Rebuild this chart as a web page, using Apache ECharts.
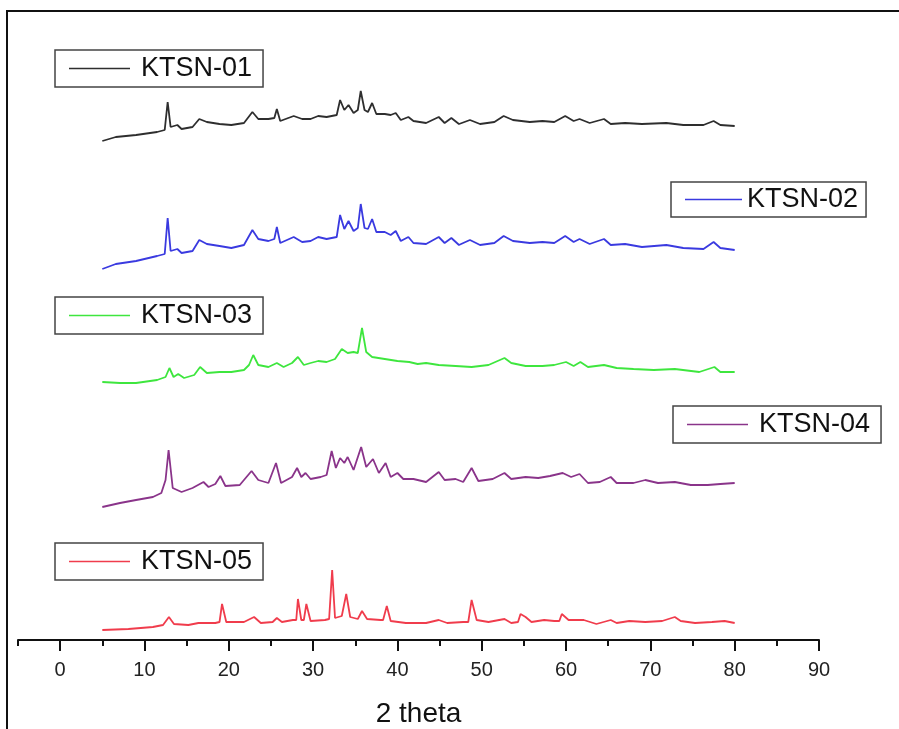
<!DOCTYPE html>
<html>
<head>
<meta charset="utf-8">
<script src="https://cdn.jsdelivr.net/npm/echarts@6/dist/echarts.min.js"></script>
<style>
html, body { margin: 0; padding: 0; background: #fff; }
#main { width: 899px; height: 729px; }
</style>
</head>
<body>
<div id="main"></div>
<script>
// series names
let names = ['KTSN-01', 'KTSN-02', 'KTSN-03', 'KTSN-04', 'KTSN-05'];

// axis ticks (2 theta)
let majorTicks = [0, 10, 20, 30, 40, 50, 60, 70, 80, 90];
let minorTicks = [-5, 5, 15, 25, 35, 45, 55, 65, 75, 85];

// patterns, stacked with offsets (2 theta, intensity a.u.)
let ktsn01 = [[5.0,499],[6.6,503],[9.0,505],[11.5,508],[12.4,510],[12.75,538],[13.1,513],[13.9,515],[14.4,511],[15.7,513],[16.5,521],[17.4,518],[18.9,516],[20.3,515],[21.8,517],[22.8,528],[23.5,521],[24.7,521],[25.4,522],[25.7,531],[26.1,519],[27.7,524],[28.7,521],[29.7,521],[30.6,524],[31.6,523],[32.8,525],[33.2,540],[33.7,530],[34.2,535],[34.8,527],[35.3,530],[35.65,549],[36.1,530],[36.5,528],[37.0,537],[37.5,526],[38.5,526],[39.2,525],[39.8,527],[40.4,520],[41.3,523],[41.9,519],[43.4,517],[44.9,523],[45.6,517],[46.4,522],[47.3,516],[48.6,520],[49.8,516],[51.5,518],[52.6,524],[53.7,520],[55.7,518],[57.2,519],[58.6,518],[59.9,524],[60.9,519],[61.6,521],[62.8,517],[64.5,521],[65.3,516],[67.0,517],[69.0,516],[71.9,517],[73.9,515],[76.3,515],[77.5,519],[78.3,515],[80.0,514]];

let ktsn02 = [[5.0,371],[6.6,376],[9.0,379],[11.5,384],[12.4,386],[12.75,422],[13.1,389],[13.9,391],[14.4,387],[15.7,389],[16.5,400],[17.4,396],[18.9,394],[20.3,392],[21.8,395],[22.8,410],[23.5,401],[24.7,399],[25.4,401],[25.7,413],[26.1,397],[27.7,403],[28.7,398],[29.7,399],[30.6,403],[31.6,401],[32.8,403],[33.2,425],[33.7,411],[34.2,419],[34.8,409],[35.3,412],[35.65,436],[36.1,412],[36.5,411],[37.0,421],[37.5,408],[38.5,408],[39.2,405],[39.8,409],[40.4,399],[41.3,403],[41.9,397],[43.4,396],[44.9,403],[45.6,397],[46.4,402],[47.3,395],[48.6,400],[49.8,395],[51.5,397],[52.6,404],[53.7,399],[55.7,397],[57.2,398],[58.6,397],[59.9,404],[60.9,398],[61.6,401],[62.8,396],[64.5,401],[65.3,395],[67.0,396],[69.0,393],[71.9,395],[73.9,392],[76.3,391],[77.5,398],[78.3,392],[80.0,390]];

let ktsn03 = [[5.0,258],[7.1,257],[9.0,257],[11.5,260],[12.5,263],[12.96,272],[13.45,263],[14.0,266],[14.7,262],[15.9,265],[16.6,273],[17.4,267],[18.9,268],[20.3,268],[21.8,270],[22.4,275],[22.9,285],[23.5,275],[24.7,273],[25.7,277],[26.5,273],[27.5,277],[28.2,283],[28.9,275],[29.7,277],[30.6,279],[31.6,278],[32.6,281],[33.4,291],[34.1,287],[34.8,288],[35.3,287],[35.8,312],[36.3,288],[37.0,283],[38.5,281],[40.0,279],[41.4,278],[42.4,276],[43.4,277],[44.9,275],[46.9,274],[48.8,273],[50.8,275],[52.7,282],[53.5,277],[55.2,274],[57.2,274],[58.6,275],[60.0,278],[60.9,274],[61.7,278],[62.6,273],[64.5,275],[66.0,272],[68.0,271],[70.4,270],[72.9,271],[75.8,268],[77.6,273],[78.3,268],[80.0,268]];

let ktsn04 = [[5.0,133],[7.1,137],[9.0,140],[11.0,143],[12.0,147],[12.5,160],[12.86,190],[13.35,152],[14.4,148],[15.7,152],[17.0,158],[17.6,153],[18.4,156],[19.0,164],[19.6,154],[21.3,155],[22.7,169],[23.5,160],[24.7,157],[25.6,177],[26.2,157],[27.5,163],[28.1,172],[28.6,163],[29.1,167],[29.7,161],[30.9,163],[31.6,165],[32.2,189],[32.7,172],[33.2,182],[33.7,177],[34.1,183],[34.8,170],[35.7,193],[36.3,173],[37.1,181],[37.8,167],[38.6,177],[39.2,163],[40.0,167],[40.7,161],[41.9,161],[43.4,158],[44.9,168],[45.6,160],[46.9,161],[47.8,158],[48.8,172],[49.6,159],[51.3,161],[52.7,167],[53.5,161],[55.2,163],[56.7,162],[58.1,164],[59.6,167],[60.6,163],[61.6,166],[62.6,157],[64.0,158],[65.3,163],[66.0,157],[68.0,157],[69.4,160],[70.9,157],[72.9,158],[74.8,155],[76.8,155],[78.3,156],[80.0,157]];

let ktsn05 = [[5.0,10],[8.1,11],[11.0,13],[12.2,15],[12.9,23],[13.5,16],[15.2,15],[16.4,17],[18.4,17],[18.9,18],[19.2,36],[19.7,18],[21.8,18],[23.0,23],[23.8,17],[25.2,18],[25.7,22],[26.3,18],[27.6,20],[28.0,20],[28.2,41],[28.6,20],[28.9,20],[29.2,36],[29.7,19],[31.4,20],[31.9,21],[32.26,70],[32.6,22],[33.4,24],[33.93,46],[34.4,23],[35.3,21],[35.8,29],[36.4,21],[38.0,20],[38.3,20],[38.74,34],[39.2,19],[41.0,17],[43.4,17],[44.9,20],[45.9,17],[47.8,18],[48.4,18],[48.8,40],[49.4,20],[50.8,18],[52.7,21],[53.5,17],[54.3,18],[54.6,26],[55.2,23],[55.9,18],[57.4,20],[58.6,19],[59.2,19],[59.5,26],[60.3,20],[62.1,20],[63.6,16],[65.3,20],[66.0,17],[67.5,19],[69.4,18],[71.4,19],[72.9,23],[73.6,19],[75.3,17],[77.3,18],[78.8,19],[80.0,17]];

let patterns = [ktsn01, ktsn02, ktsn03, ktsn04, ktsn05];
let colors = ['#2e2e2e', '#3a3ae0', '#3ee63e', '#8a348a', '#f03c4c'];

let mainchart = echarts.init(document.getElementById('main'));

const fontName = 'Liberation Sans, Arial, sans-serif';

// legend boxes: one per series
const legendPlace = [
    {left: 55, top: 50, itemWidth: 61, pad: [5, 11, 5, 14], gap: 6},
    {left: 671, top: 182, itemWidth: 57, pad: [4, 8, 4, 14], gap: 0},
    {left: 55, top: 297, itemWidth: 61, pad: [5, 11, 5, 14], gap: 6},
    {left: 673, top: 406, itemWidth: 61, pad: [5, 11, 5, 14], gap: 6},
    {left: 55, top: 543, itemWidth: 61, pad: [5, 11, 5, 14], gap: 6}
];

let legends = [];
for (let t = 0; t < names.length; t++) {
    const p = legendPlace[t];
    legends.push({
        data: [names[t]],
        left: p.left,
        top: p.top,
        orient: 'horizontal',
        icon: 'rect',
        itemWidth: p.itemWidth,
        itemHeight: 1.6,
        padding: p.pad,
        borderColor: '#444',
        borderWidth: 1.5,
        backgroundColor: '#fff',
        selectedMode: false,
        textStyle: {
            fontFamily: fontName,
            fontSize: 27,
            lineHeight: 27,
            color: '#111',
            padding: [0, 0, 0, p.gap]
        }
    });
}

let seriesList = [];
for (let t = 0; t < names.length; t++) {
    seriesList.push({
        name: names[t],
        type: 'line',
        data: patterns[t],
        symbol: 'none',
        showSymbol: false,
        animation: false,
        lineStyle: {color: colors[t], width: 1.8},
        itemStyle: {color: colors[t]}
    });
}

let chart_config = {
    backgroundColor: '#fff',
    animation: false,
    grid: {left: 18, right: 80, top: 40, bottom: 89, containLabel: false, outerBoundsMode: 'none'},
    legend: legends,
    xAxis: [{
        type: 'value',
        min: -5,
        max: 90,
        position: 'bottom',
        name: '2 theta',
        nameLocation: 'middle',
        nameGap: 60,
        nameTextStyle: {fontFamily: fontName, fontSize: 28, color: '#111'},
        axisLine: {lineStyle: {color: '#111', width: 2}},
        axisTick: {customValues: majorTicks, length: 11, lineStyle: {color: '#111', width: 2}},
        axisLabel: {customValues: majorTicks, fontFamily: fontName, fontSize: 20, color: '#222', margin: 20},
        splitLine: {show: false}
    }, {
        type: 'value',
        min: -5,
        max: 90,
        position: 'bottom',
        offset: 0,
        axisLine: {show: false},
        axisTick: {customValues: minorTicks, length: 6, lineStyle: {color: '#111', width: 2}},
        axisLabel: {show: false},
        splitLine: {show: false}
    }],
    yAxis: {
        type: 'value',
        min: 0,
        max: 600,
        show: false,
        splitLine: {show: false}
    },
    graphic: [{
        type: 'rect',
        shape: {x: 7, y: 11, width: 900, height: 730},
        style: {fill: 'none', stroke: '#111', lineWidth: 2},
        silent: true
    }],
    series: seriesList
};

mainchart.setOption(chart_config);
</script>
</body>
</html>
